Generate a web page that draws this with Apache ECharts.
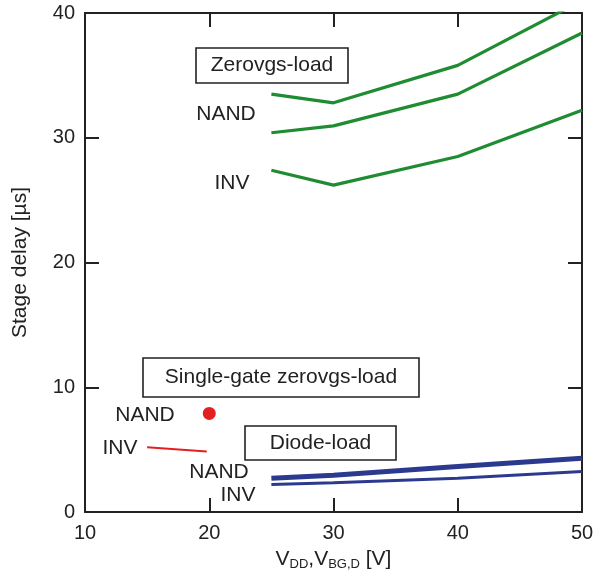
<!DOCTYPE html>
<html>
<head>
<meta charset="utf-8">
<script src="https://cdn.jsdelivr.net/npm/echarts@6/dist/echarts.min.js"></script>
<style>html,body{margin:0;padding:0;background:#fff}#c{width:600px;height:576px}</style>
</head>
<body>
<div id="c"></div>
<script>
// Data
var vdd = [25, 30, 40, 50];
var zerovgsNandUpper = [33.5, 32.8, 35.8, 41.0];
var zerovgsNandLower = [30.4, 30.95, 33.5, 38.4];
var zerovgsInv = [27.4, 26.2, 28.5, 32.2];
var diodeNand = [2.7, 2.95, 3.65, 4.3];
var diodeInv = [2.2, 2.35, 2.7, 3.25];
var singleGateNandX = [20];
var singleGateNandY = [7.9];
var singleGateInvX = [15, 19.8];
var singleGateInvY = [5.2, 4.85];
var xTicks = [10, 20, 30, 40, 50];
var yTicks = [0, 10, 20, 30, 40];

function pairs(xs, ys) { return xs.map(function (x, i) { return [x, ys[i]]; }); }

var FONT = 'Liberation Sans, Arial, Helvetica, sans-serif';
var GREEN = '#1f8c32';
var BLUE = '#2b3a8f';
var RED = '#e3201f';
var AX = '#222';

var chart = echarts.init(document.getElementById('c'), null, {renderer: 'canvas'});

function lineSeries(name, data, color, width) {
  return {
    name: name, type: 'line', data: data, symbol: 'none', clip: true,
    lineStyle: {color: color, width: width}, animation: false, z: 3
  };
}

var axCommon = {
  type: 'value',
  axisLine: {show: true, onZero: false, lineStyle: {color: AX, width: 2}},
  axisTick: {show: true, inside: true, length: 14, lineStyle: {color: AX, width: 2}},
  splitLine: {show: false}
};

function box(x, y, w, h, text) {
  return [
    {type: 'rect', shape: {x: x, y: y, width: w, height: h}, style: {fill: '#fff', stroke: AX, lineWidth: 1.6}, z: 10},
    {type: 'text', x: x + w / 2, y: y + h / 2, style: {text: text, font: '21px ' + FONT, fill: AX, align: 'center', verticalAlign: 'middle'}, z: 11}
  ];
}
function label(cx, cy, text) {
  return {type: 'text', x: cx, y: cy, style: {text: text, font: '21px ' + FONT, fill: AX, align: 'center', verticalAlign: 'middle'}, z: 11};
}

var graphics = [].concat(
  box(196, 48, 152, 35, 'Zerovgs-load'),
  box(143, 358, 276, 39, 'Single-gate zerovgs-load'),
  box(245, 426, 151, 34, 'Diode-load'),
  [
    label(226, 114, 'NAND'),
    label(232, 183, 'INV'),
    label(145, 415, 'NAND'),
    label(120, 448, 'INV'),
    label(219, 472, 'NAND'),
    label(238, 495, 'INV')
  ]
);

var option = {
  animation: false,
  backgroundColor: '#fff',
  textStyle: {fontFamily: FONT},
  grid: {left: 85, right: 18, top: 13, bottom: 64, containLabel: false},
  xAxis: [
    Object.assign({}, axCommon, {
      position: 'bottom', min: xTicks[0], max: xTicks[xTicks.length - 1], interval: 10,
      axisLabel: {fontSize: 20, color: AX, margin: 11, fontFamily: FONT},
      name: '{m|V}{s|DD}{m|,V}{s|BG,D}{m| [V]}',
      nameLocation: 'middle', nameGap: 33,
      nameTextStyle: {
        rich: {
          m: {fontSize: 21, color: AX, fontFamily: FONT, lineHeight: 26},
          s: {fontSize: 13, color: AX, fontFamily: FONT, padding: [10, 0, 0, 0], lineHeight: 26}
        }
      }
    }),
    Object.assign({}, axCommon, {
      position: 'top', min: xTicks[0], max: xTicks[xTicks.length - 1], interval: 10,
      axisLabel: {show: false}
    })
  ],
  yAxis: [
    Object.assign({}, axCommon, {
      position: 'left', min: yTicks[0], max: yTicks[yTicks.length - 1], interval: 10,
      axisLabel: {fontSize: 20, color: AX, margin: 10, fontFamily: FONT},
      name: 'Stage delay [µs]', nameLocation: 'middle', nameGap: 54, nameRotate: 90,
      nameTextStyle: {fontSize: 21, color: AX, fontFamily: FONT}
    }),
    Object.assign({}, axCommon, {
      position: 'right', min: yTicks[0], max: yTicks[yTicks.length - 1], interval: 10,
      axisLabel: {show: false}
    })
  ],
  series: [
    lineSeries('Zerovgs-load NAND (upper)', pairs(vdd, zerovgsNandUpper), GREEN, 3.2),
    lineSeries('Zerovgs-load NAND (lower)', pairs(vdd, zerovgsNandLower), GREEN, 3.2),
    lineSeries('Zerovgs-load INV', pairs(vdd, zerovgsInv), GREEN, 3.2),
    lineSeries('Diode-load NAND', pairs(vdd, diodeNand), BLUE, 5),
    lineSeries('Diode-load INV', pairs(vdd, diodeInv), BLUE, 3),
    lineSeries('Single-gate INV', pairs(singleGateInvX, singleGateInvY), RED, 2),
    {
      name: 'Single-gate NAND', type: 'scatter', data: pairs(singleGateNandX, singleGateNandY),
      symbol: 'circle', symbolSize: 13, itemStyle: {color: RED, opacity: 1}, z: 4
    }
  ],
  graphic: graphics
};
chart.setOption(option);
</script>
</body>
</html>
